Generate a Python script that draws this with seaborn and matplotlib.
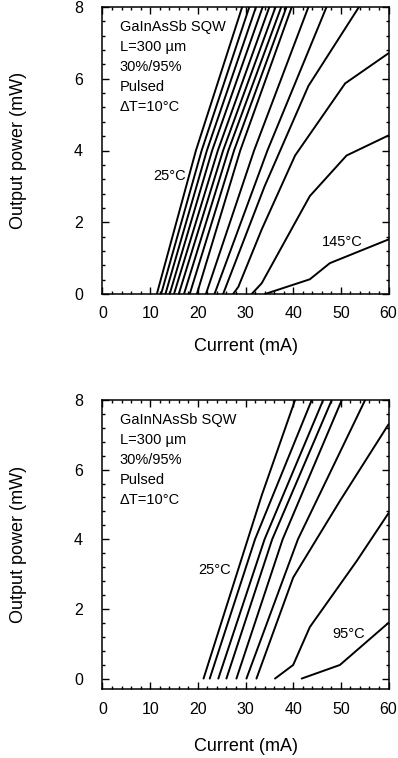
import numpy as np
import pandas as pd
import matplotlib
matplotlib.use("Agg")
import matplotlib.pyplot as plt
import seaborn as sns
from matplotlib.ticker import MultipleLocator

# ---------------- data ----------------
# Top panel: GaInAsSb SQW, 15 L-I curves (current mA, power mW)
top_x = [
    [11.4, 19.6, 29.3],
    [12.3, 20.8, 30.8],
    [13.2, 21.9, 32.2],
    [14.1, 23.0, 33.6],
    [15.0, 24.2, 35.0],
    [16.0, 25.3, 36.3],
    [17.1, 26.4, 37.5],
    [18.3, 27.6, 38.6],
    [19.8, 28.9, 39.7],
    [21.7, 31.8, 43.2],
    [23.5, 34.6, 47.0],
    [25.3, 34.0, 43.2, 53.8],
    [27.4, 28.5, 33.4, 40.4, 50.9, 60.0],
    [31.3, 33.4, 40.0, 43.5, 51.2, 60.0],
    [34.1, 43.5, 47.7, 60.0],
]
top_y = [
    [0, 4, 8], [0, 4, 8], [0, 4, 8], [0, 4, 8], [0, 4, 8],
    [0, 4, 8], [0, 4, 8], [0, 4, 8], [0, 4, 8], [0, 4, 8], [0, 4, 8],
    [0, 3.0, 5.8, 8],
    [0, 0.2, 1.8, 3.86, 5.87, 6.71],
    [0, 0.3, 1.89, 2.73, 3.86, 4.42],
    [0, 0.41, 0.86, 1.52],
]

# Bottom panel: GaInNAsSb SQW, 9 L-I curves
bot_x = [
    [21.2, 33.4, 40.4],
    [22.5, 32.0, 43.9],
    [24.3, 34.0, 46.3],
    [26.0, 35.6, 48.1],
    [28.1, 37.8, 50.2],
    [30.2, 41.0, 55.1],
    [32.3, 40.0, 49.8, 60.0],
    [36.2, 40.0, 43.5, 53.3, 60.0],
    [41.8, 49.8, 60.0],
]
bot_y = [
    [0, 5.26, 8], [0, 4, 8], [0, 4, 8], [0, 4, 8], [0, 4, 8], [0, 4, 8],
    [0, 2.9, 5.1, 7.3],
    [0, 0.39, 1.48, 3.37, 4.75],
    [0, 0.39, 1.6],
]

top_info = ["GaInAsSb SQW", "L=300 \u00b5m", "30%/95%", "Pulsed", "\u0394T=10\u00b0C"]
bot_info = ["GaInNAsSb SQW", "L=300 \u00b5m", "30%/95%", "Pulsed", "\u0394T=10\u00b0C"]
top_labels = [("25\u00b0C", 10.6, 3.3), ("145\u00b0C", 46.0, 1.46)]
bot_labels = [("25\u00b0C", 20.0, 3.12), ("95\u00b0C", 48.2, 1.28)]

x_ticks = [0, 10, 20, 30, 40, 50, 60]
y_ticks = [0, 2, 4, 6, 8]
x_label = "Current (mA)"
y_label = "Output power (mW)"

# ---------------- styling ----------------
sns.set_theme(style="ticks")
plt.rcParams["font.family"] = ["Liberation Sans", "DejaVu Sans"]
plt.rcParams["text.color"] = "black"
plt.rcParams["axes.labelcolor"] = "black"
plt.rcParams["xtick.color"] = "black"
plt.rcParams["ytick.color"] = "black"

W, H = 398, 758
fig = plt.figure(figsize=(W / 100, H / 100), dpi=100)


def to_frame(xs, ys):
    rows = []
    for i, (xx, yy) in enumerate(zip(xs, ys)):
        for a, b in zip(xx, yy):
            rows.append({"curve": i, "I": a, "P": b})
    return pd.DataFrame(rows)


def make_panel(rect, xs, ys, info, labels, ylim, xlab_y):
    ax = fig.add_axes(rect)
    df = to_frame(xs, ys)
    n = len(xs)
    sns.lineplot(data=df, x="I", y="P", hue="curve", units="curve",
                 estimator=None, sort=False, palette=["black"] * n,
                 legend=False, linewidth=1.4, ax=ax)
    ax.set_xlim(0, 60)
    ax.set_ylim(*ylim)
    ax.set_xticks(x_ticks)
    ax.set_yticks(y_ticks)
    ax.xaxis.set_minor_locator(MultipleLocator(2))
    ax.yaxis.set_minor_locator(MultipleLocator(0.4))
    ax.tick_params(which="both", direction="in", top=True, right=True,
                   width=1.0, colors="black")
    ax.tick_params(which="major", length=5)
    ax.tick_params(which="minor", length=2.5)
    ax.tick_params(axis="x", which="major", labelsize=11.5, pad=9)
    ax.tick_params(axis="y", which="major", labelsize=11.5, pad=14)
    ax.tick_params(labelright=False, labeltop=False)
    for s in ax.spines.values():
        s.set_linewidth(1.1)
        s.set_color("black")
    ax.set_xlabel(x_label, fontsize=13, color="black")
    ax.set_ylabel(y_label, fontsize=13, color="black")
    ax.xaxis.set_label_coords(0.5, xlab_y)
    ax.yaxis.set_label_coords(-0.265, 0.5)
    ax.text(0.06, 0.955, "\n".join(info), transform=ax.transAxes,
            fontsize=10.5, va="top", ha="left", linespacing=1.55,
            color="black")
    for t, x, y in labels:
        ax.text(x, y, t, fontsize=10.5, va="center", ha="left", color="black")
    return ax


L = 102.5 / W
Wd = 286 / W
make_panel([L, 1 - 294 / H, Wd, 287 / H], top_x, top_y, top_info,
           top_labels, (0, 8), -0.155)
make_panel([L, 1 - 689 / H, Wd, 289 / H], bot_x, bot_y, bot_info,
           bot_labels, (-0.3, 8), -0.17)

fig.savefig("out.png", dpi=100)
